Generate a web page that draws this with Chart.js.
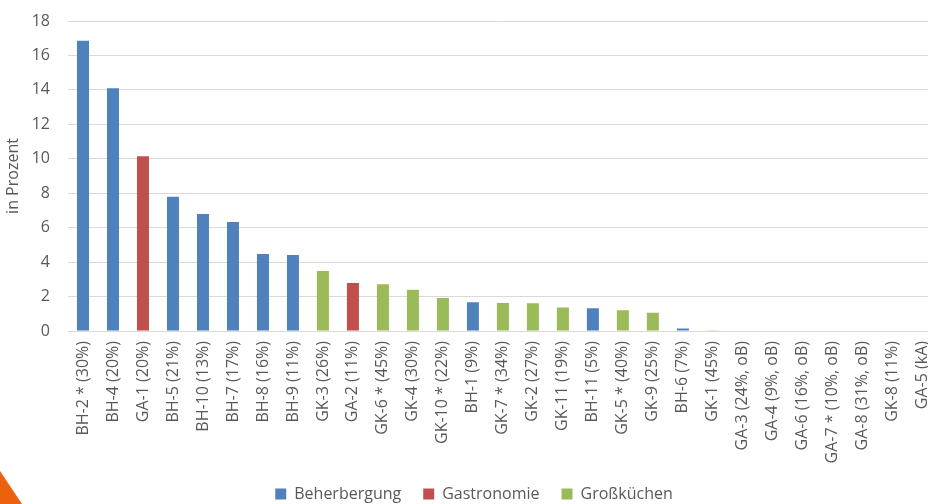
<!DOCTYPE html>
<html>
<head>
<meta charset="utf-8">
<script src="https://cdn.jsdelivr.net/npm/chart.js@4"></script>
<style>
  html, body { margin: 0; padding: 0; background: #fff; overflow: hidden; }
  #wrap { position: relative; width: 944px; height: 504px; }
  #corner {
    position: absolute; left: 0; top: 471px; width: 22px; height: 33px;
    background: #ec6110; clip-path: polygon(0 0, 100% 100%, 0 100%);
  }
</style>
</head>
<body>
<div id="wrap">
  <canvas id="chart"></canvas>
</div>
<div id="corner"></div>
<script>
// Betriebe, sortiert nach Anteil
const categories = [
  "BH-2 * (30%)", "BH-4 (20%)", "GA-1 (20%)", "BH-5 (21%)", "BH-10 (13%)",
  "BH-7 (17%)", "BH-8 (16%)", "BH-9 (11%)", "GK-3 (26%)", "GA-2 (11%)",
  "GK-6 * (45%)", "GK-4 (30%)", "GK-10 * (22%)", "BH-1 (9%)", "GK-7 * (34%)",
  "GK-2 (27%)", "GK-11 (19%)", "BH-11 (5%)", "GK-5 * (40%)", "GK-9 (25%)",
  "BH-6 (7%)", "GK-1 (45%)", "GA-3 (24%, oB)", "GA-4 (9%, oB)", "GA-6 (16%, oB)",
  "GA-7 * (10%, oB)", "GA-8 (31%, oB)", "GK-8 (11%)", "GA-5 (kA)"
];
const values = [
  16.85, 14.1, 10.15, 7.8, 6.8,
  6.33, 4.47, 4.41, 3.48, 2.78,
  2.72, 2.4, 1.92, 1.67, 1.63,
  1.61, 1.36, 1.32, 1.2, 1.06,
  0.14, 0.05, 0, 0, 0,
  0, 0, 0, 0
];
// Branche je Betrieb (Index in groupNames)
const groups = [
  0, 0, 1, 0, 0,
  0, 0, 0, 2, 1,
  2, 2, 2, 0, 2,
  2, 2, 0, 2, 2,
  0, 2, 1, 1, 1,
  1, 1, 2, 1
];
const groupNames = ["Beherbergung", "Gastronomie", "Großküchen"];
const groupColors = ["#4f81bd", "#c0504d", "#9bbb59"];
const yTicks = [0, 2, 4, 6, 8, 10, 12, 14, 16, 18];

const textColor = "#595959";
const font = { family: "'Open Sans', 'Liberation Sans', sans-serif", size: 16 };

// one dataset per Branche, empty slots skipped so bars stay centred
const datasets = groupNames.map((name, g) => ({
  label: name,
  data: values.map((v, i) => (groups[i] === g ? v : null)),
  backgroundColor: groupColors[g],
  borderWidth: 0,
  barPercentage: 0.4,
  categoryPercentage: 1,
  skipNull: true,
}));

new Chart(document.getElementById("chart"), {
  type: "bar",
  data: { labels: categories, datasets: datasets },
  options: {
    responsive: true,
    maintainAspectRatio: false,
    animation: false,
    layout: { padding: { top: 0, left: 4, bottom: -8 } },
    plugins: {
      legend: {
        position: "bottom",
        labels: {
          color: textColor,
          font: font,
          boxWidth: 11,
          boxHeight: 11,
          padding: 22,
        },
      },
      tooltip: { enabled: false },
    },
    scales: {
      x: {
        grid: { display: false },
        border: { display: false },
        afterFit: (scale) => { scale.height = 133; },
        ticks: {
          color: textColor,
          font: font,
          minRotation: 90,
          maxRotation: 90,
          autoSkip: false,
          padding: 2,
        },
      },
      y: {
        min: 0,
        max: 18,
        afterBuildTicks: (scale) => {
          scale.ticks = yTicks.map((v) => ({ value: v }));
        },
        afterFit: (scale) => {
          scale.width = 64;
          scale.paddingTop = 21;
          scale.paddingBottom = 10;
        },
        grid: { color: "#d9d9d9", lineWidth: 1, drawTicks: false },
        border: { display: false },
        ticks: { color: textColor, font: font, padding: 18 },
        title: {
          display: true,
          text: "in Prozent",
          color: textColor,
          font: font,
          padding: { top: 0, bottom: 4 },
        },
      },
    },
  },
});
</script>
</body>
</html>
